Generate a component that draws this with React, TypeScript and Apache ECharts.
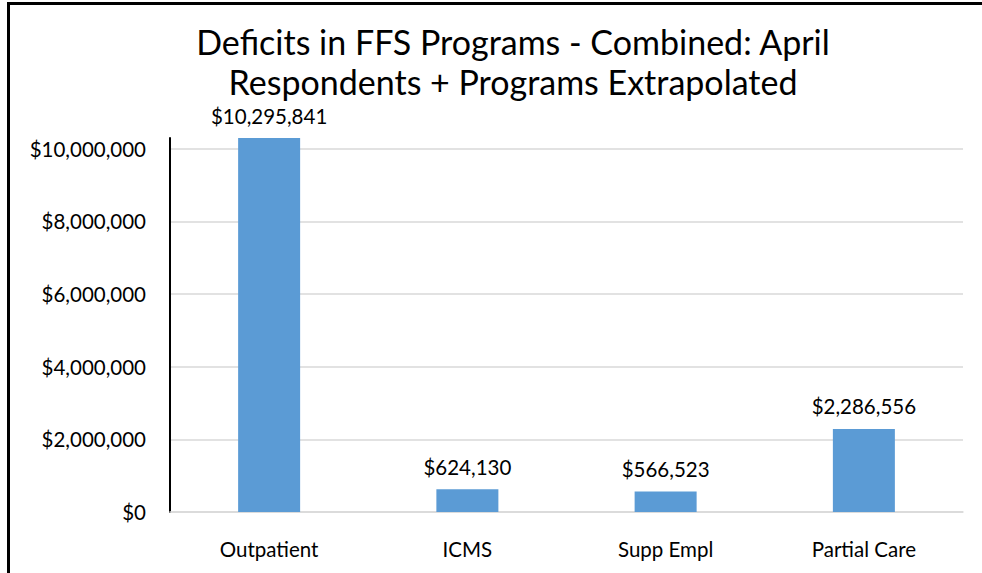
import React, { useEffect, useRef } from "react";
import * as echarts from "echarts";

const titleLines = ["Deficits in FFS Programs - Combined: April", "Respondents + Programs Extrapolated"];
const categories = ["Outpatient", "ICMS", "Supp Empl", "Partial Care"];
const deficits = [10295841, 624130, 566523, 2286556];
const yTickStep = 2000000;

const FONT = "Lato";

function money(v: number): string {
  return "$" + Math.round(v).toLocaleString("en-US");
}

export default function App() {
  const ref = useRef<HTMLDivElement>(null);
  useEffect(() => {
    document.body.style.margin = "0";
    document.body.style.overflow = "hidden";
    const chart = echarts.init(ref.current!, null, { renderer: "svg" });
    const maxVal = Math.max(...deficits);
    chart.setOption({
      animation: false,
      textStyle: { fontFamily: FONT },
      title: {
        text: titleLines.join("\n"),
        left: 508,
        top: 16,
        textAlign: "center",
        textStyle: { fontFamily: FONT, fontSize: 34, fontWeight: "normal", color: "#000", lineHeight: 40 },
      },
      graphic: [
        {
          type: "line",
          shape: { x1: 8.5, y1: 2, x2: 8.5, y2: 600 },
          style: { stroke: "#000", lineWidth: 3 },
          silent: true,
        },
        {
          type: "line",
          shape: { x1: 7, y1: 3.5, x2: 1000, y2: 3.5 },
          style: { stroke: "#000", lineWidth: 3 },
          silent: true,
        },
      ],
      grid: { left: 170, right: 19, top: 138, bottom: 61, containLabel: false },
      xAxis: {
        type: "category",
        data: categories,
        axisLine: { show: true, lineStyle: { color: "#D9D9D9", width: 1.5 } },
        axisTick: { show: false },
        axisLabel: { color: "#000", fontSize: 20.5, fontFamily: FONT, margin: 26 },
      },
      yAxis: {
        type: "value",
        min: 0,
        max: maxVal,
        interval: yTickStep,
        axisLine: { show: true, lineStyle: { color: "#000", width: 2 } },
        axisTick: { show: false },
        axisLabel: {
          color: "#000",
          fontSize: 20.5,
          fontFamily: FONT,
          margin: 24,
          showMaxLabel: false,
          formatter: (v: number) => (v % yTickStep === 0 ? money(v) : ""),
        },
        splitLine: { show: true, showMaxLine: false, lineStyle: { color: "#D9D9D9", width: 1.5 } },
      },
      series: [
        {
          type: "bar",
          data: deficits,
          barWidth: 62,
          itemStyle: { color: "#5B9BD5" },
          label: {
            show: true,
            position: "top",
            distance: 12,
            color: "#000",
            fontSize: 20.5,
            fontFamily: FONT,
            formatter: (p: any) => money(p.value),
          },
        },
      ],
    });
    return () => chart.dispose();
  }, []);
  return <div ref={ref} style={{ width: 982, height: 573 }} />;
}
